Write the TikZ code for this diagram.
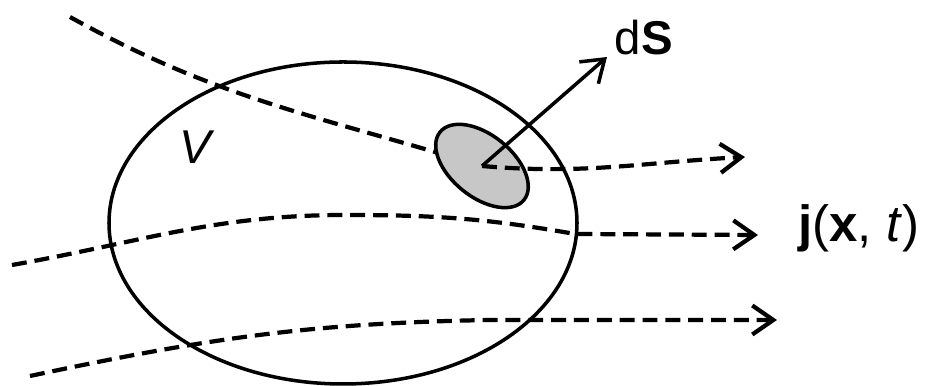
\documentclass[tikz,border=0pt]{standalone}
\usepackage{fontspec}
\setmainfont{Liberation Sans}
\usetikzlibrary{arrows.meta,positioning,shapes.geometric}

\begin{document}
\begin{tikzpicture}[
  vol/.style={draw, ellipse, line width=2pt, minimum width=9.36cm, minimum height=6.44cm, inner sep=0pt},
  patch/.style={draw, ellipse, line width=2pt, fill=black!22, minimum width=2.16cm, minimum height=1.24cm, inner sep=0pt},
  flow/.style={line width=2.4pt, dash pattern=on 8.5pt off 4.5pt, -{Straight Barb[length=4.2mm, width=5.8mm]}},
  flowpart/.style={line width=2.4pt, dash pattern=on 8.5pt off 4.5pt},
  arr/.style={line width=2pt, -{Straight Barb[length=4.2mm, width=5.8mm]}},
  lbl/.style={font=\fontsize{27}{30}\selectfont, inner sep=0pt}
]
\useasboundingbox (0,0) rectangle (18.56,7.72);

\node[vol] (vol) at (6.86,3.26) {};
\node[lbl] (V) at (3.94,4.78) {\textit{V}};

\coordinate (a0) at (1.4,7.38);
\coordinate (b0) at (0.24,2.42);
\coordinate (b1) at (6.9,3.42);
\coordinate (b2) at (11.5,3.04);
\coordinate (b3) at (15.16,3.02);
\coordinate (c0) at (0.6,0.2);
\coordinate (c1) at (9.8,1.32);
\coordinate (c2) at (15.54,1.32);
\coordinate (a3) at (14.9,4.58);
\coordinate (n1) at (12.14,6.58);

\draw[flowpart] (a0) to[out=-29, in=163] (9.64,4.40);
\draw[flow] (b0) to[out=10, in=180] (b1) to[out=0, in=170] (b2) -- (b3);
\draw[flow] (c0) to[out=12, in=181] (c1) -- (c2);

\node[patch, rotate=-39] (ds) at (9.64,4.40) {};

\draw[flow] (ds.center) to[out=-5, in=183] (a3);
\draw[arr] (ds.center) -- (n1);

\node[lbl] (dS) at (12.88,6.96) {d\textbf{S}};
\node[lbl, anchor=west, font=\fontsize{29}{32}\selectfont] (j) at (15.96,3.16) {\textbf{j}(\textbf{x}, \textit{t})};
\end{tikzpicture}
\end{document}
